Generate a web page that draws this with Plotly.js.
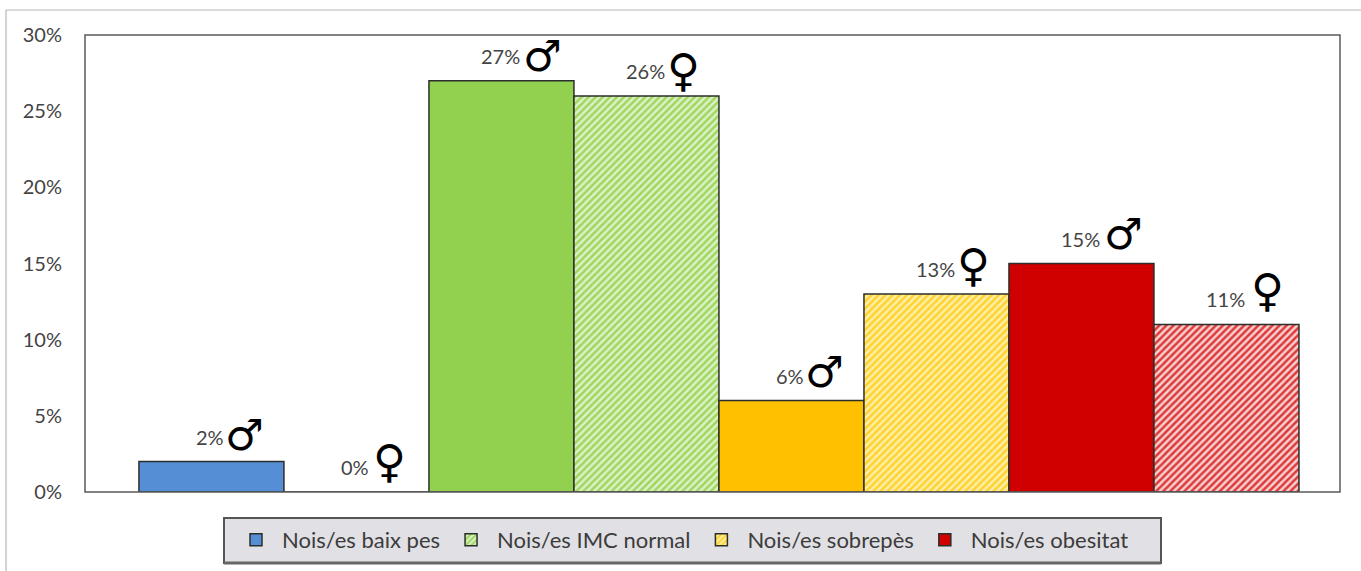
<!DOCTYPE html>
<html>
<head>
<meta charset="utf-8">
<script src="https://cdn.plot.ly/plotly-3.0.1.min.js"></script>
<style>html,body{margin:0;padding:0;background:#fff}#chart{width:1361px;height:571px}</style>
</head>
<body>
<div id="chart"></div>
<script>
// Share of boys and girls per weight class, in percent
const groupNames = ['Nois/es baix pes','Nois/es baix pes','Nois/es IMC normal','Nois/es IMC normal','Nois/es sobrepès','Nois/es sobrepès','Nois/es obesitat','Nois/es obesitat'];
const values = [2,0,27,26,6,13,15,11];
const genders = ['♂','♀','♂','♀','♂','♀','♂','♀'];
const barColors = ['#558ed5','#558ed5','#92d050','#92d050','#ffc000','#ffc000','#d00000','#d00000'];
const hatchFore = {'#92d050':'#9fd75f','#ffc000':'#ffd22e','#d00000':'#dc3a3a','#558ed5':'#558ed5'};
const hatchBack = {'#92d050':'#dcf1c6','#ffc000':'#ffeea6','#d00000':'#f9d0d0','#558ed5':'#ffffff'};
const legendShown = [true,false,false,true,false,true,true,false];
const yTicks = [0,5,10,15,20,25,30];
// Pixel offsets of each gender sign: above the bar top, and right of the bar centre
const signLift = [11,9,9,4,13,7,14,12];
const signShift = [33,33,41,37,33,37,42,41];

const font = 'Lato, "Open Sans", sans-serif';
const isFemale = g => g === '♀';

const traces = values.map((v,i) => ({
  type:'bar', x:[i], y:[v], width:1, name:groupNames[i],
  showlegend:legendShown[i], hoverinfo:'skip',
  marker:{
    color: isFemale(genders[i]) ? hatchBack[barColors[i]] : barColors[i],
    line:{color:'#2b2f2b',width:1.5},
    pattern: isFemale(genders[i])
      ? {shape:'/',fgcolor:hatchFore[barColors[i]],bgcolor:hatchBack[barColors[i]],size:5,solidity:0.5,fillmode:'replace'}
      : {shape:''}
  }
}));

// Percentage label above each bar, with the gender sign beside it
const annotations = [];
values.forEach((v,i) => {
  const female = isFemale(genders[i]);
  annotations.push({x:i,y:v,xref:'x',yref:'y',text:v+'%',showarrow:false,yanchor:'bottom',yshift:11,xshift:-1,
    font:{family:font,size:20,color:'#444'}});
  annotations.push({x:i,y:v,xref:'x',yref:'y',text:genders[i],showarrow:false,yanchor:'bottom',
    yshift:signLift[i]-(female?7:11),
    xshift:signShift[i],
    font:{family:'"DejaVu Sans"',size:female?45:43,color:'#000'}});
});

const layout = {
  width:1361,height:571,autosize:false,
  margin:{l:85,r:21,t:35,b:79,pad:0,autoexpand:false},
  paper_bgcolor:'#fff',plot_bgcolor:'#fff',
  barmode:'overlay',
  xaxis:{range:[-0.872,7.783],showticklabels:false,ticks:'',showgrid:false,zeroline:false,showline:false,fixedrange:true},
  yaxis:{range:[0,30],tickvals:yTicks,ticktext:yTicks.map(t=>t+'%'),showgrid:false,zeroline:false,showline:false,
    ticks:'',tickfont:{family:font,size:20,color:'#444'},ticklabelstandoff:22,fixedrange:true},
  legend:{orientation:'h',xref:'paper',yref:'paper',x:(230-85)/1255,y:(492-540)/457,xanchor:'left',yanchor:'middle',
    bgcolor:'rgba(0,0,0,0)',borderwidth:0,itemwidth:42,font:{family:font,size:22,color:'#3c3c3c'},itemclick:false,itemdoubleclick:false,traceorder:'normal'},
  shapes:[
    // plot frame
    {type:'rect',xref:'paper',yref:'paper',x0:0,x1:1,y0:0,y1:1,line:{color:'#5a5a5a',width:1.5},layer:'above'},
    // outer chart border along the top and left edges
    {type:'line',xref:'paper',yref:'paper',x0:(6-85)/1255,x1:(1361-85)/1255,y0:(492-10)/457,y1:(492-10)/457,line:{color:'#b5b5b5',width:1.2}},
    {type:'line',xref:'paper',yref:'paper',x0:(6-85)/1255,x1:(6-85)/1255,y0:(492-10)/457,y1:(492-571)/457,line:{color:'#b5b5b5',width:1.2}},
    // legend panel
    {type:'rect',xref:'paper',yref:'paper',x0:(224-85)/1255,x1:(1161-85)/1255,y0:(492-518)/457,y1:(492-563)/457,fillcolor:'#e1e0e4',line:{color:'#555',width:2}},
    {type:'line',xref:'paper',yref:'paper',x0:(224-85)/1255,x1:(1161-85)/1255,y0:(492-563)/457,y1:(492-563)/457,line:{color:'#666',width:3}}
  ],
  annotations:annotations
};
Plotly.newPlot('chart',traces,layout,{displayModeBar:false,staticPlot:true});
</script>
</body>
</html>
